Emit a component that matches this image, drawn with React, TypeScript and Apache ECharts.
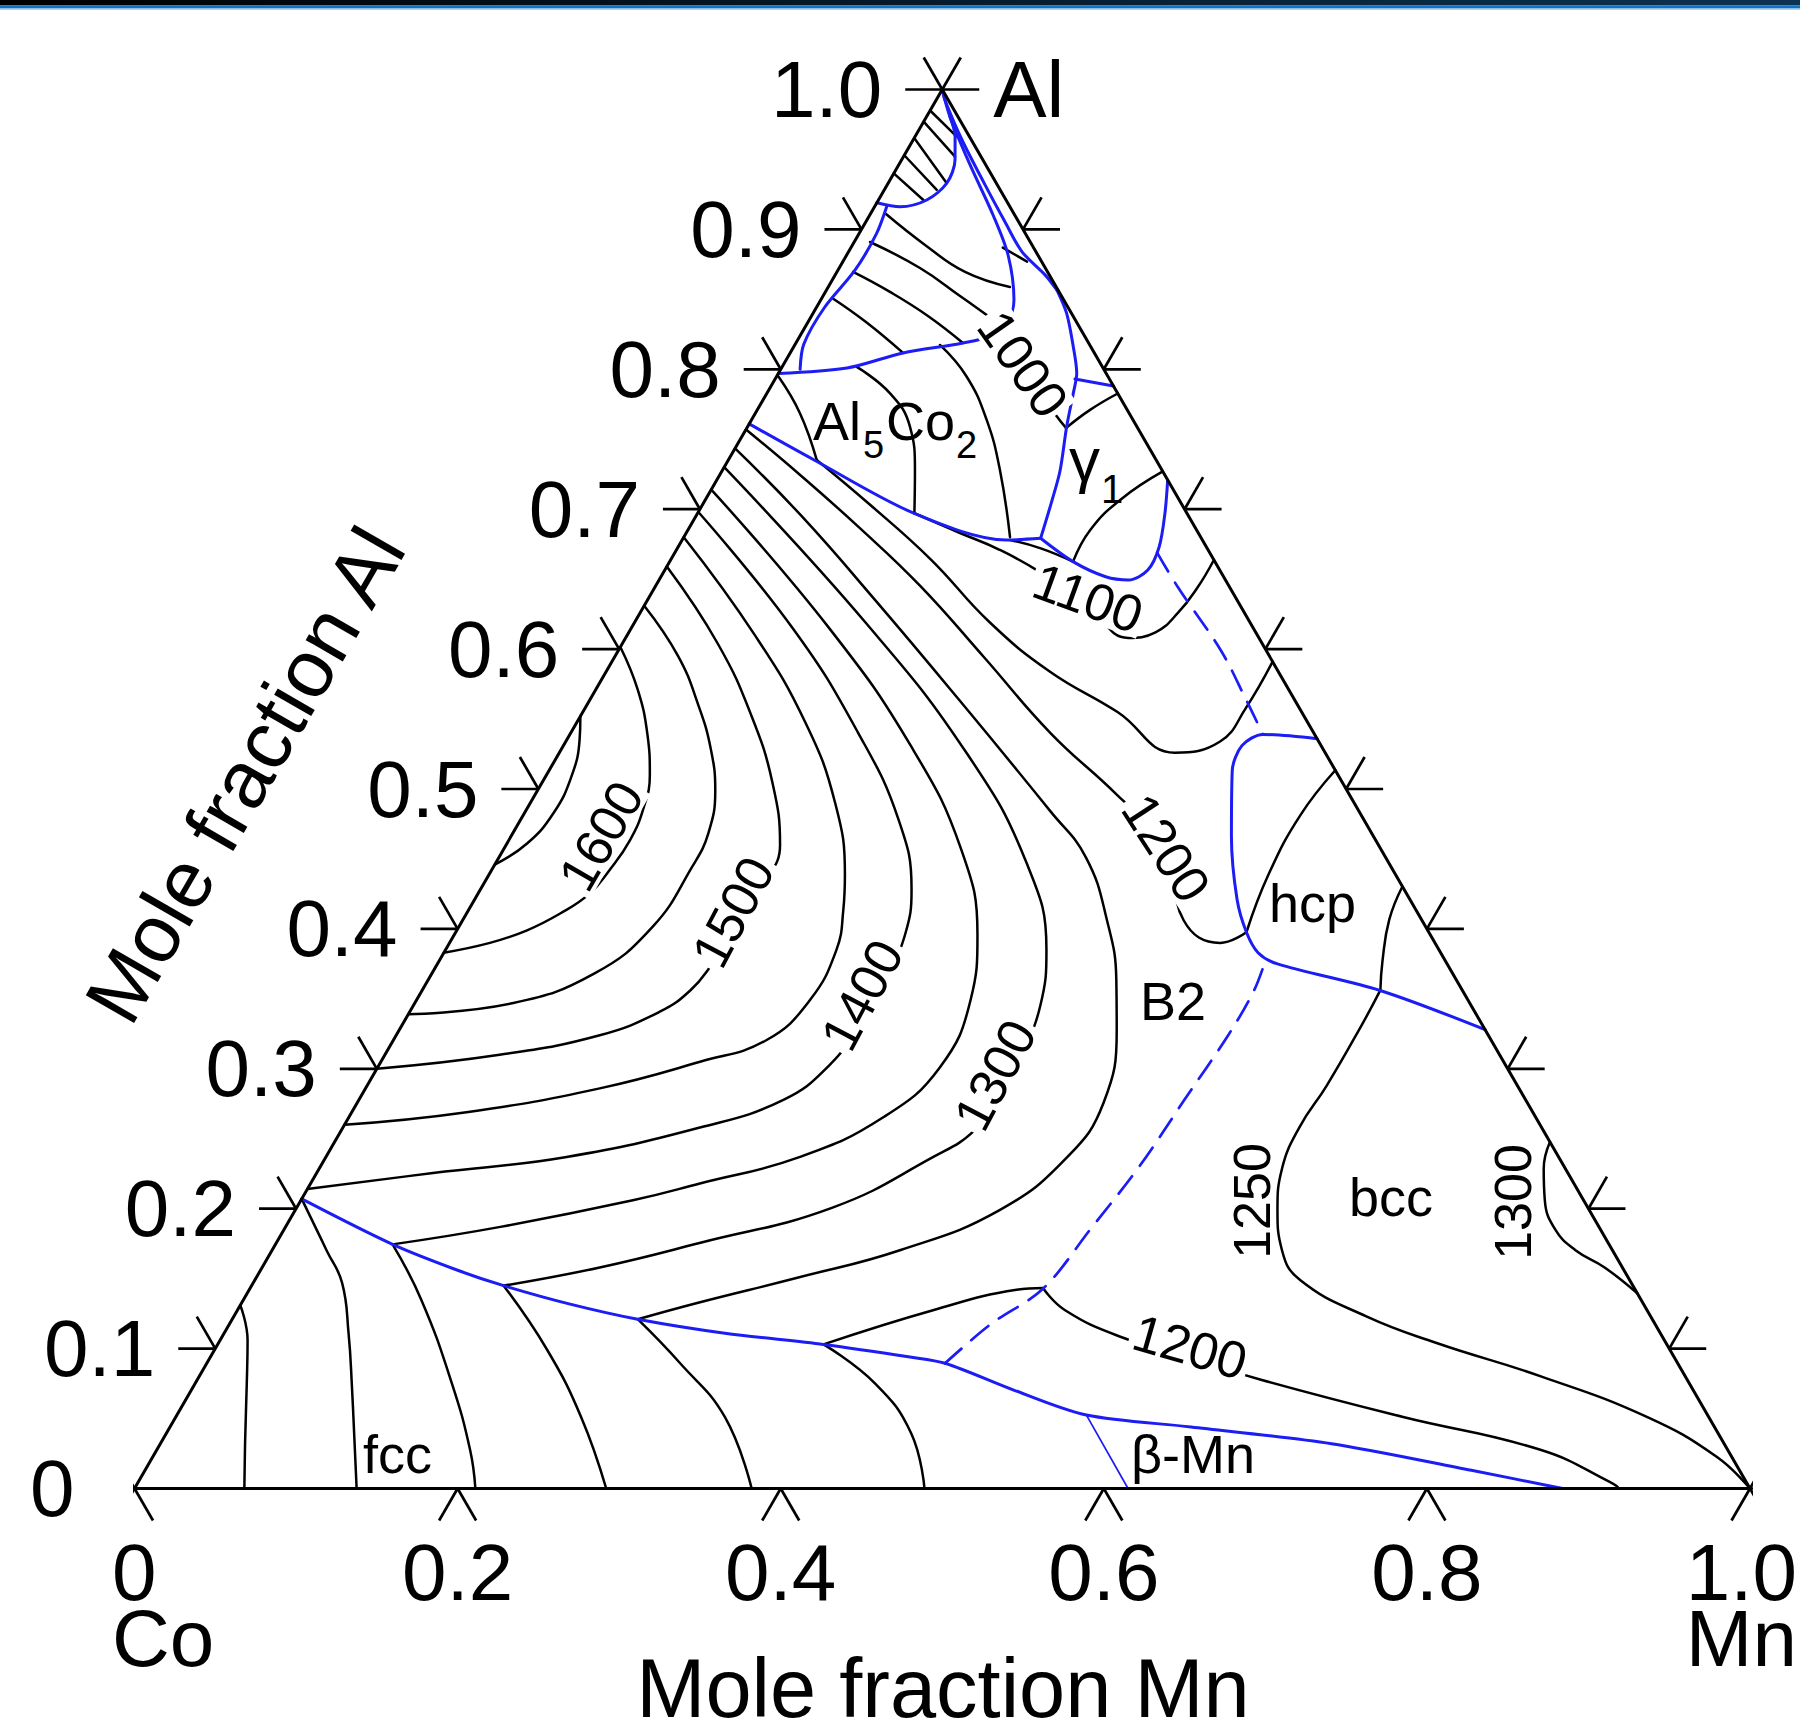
import React, { useEffect, useRef } from "react";
import * as echarts from "echarts";

// ---------------- axis ticks ----------------
const leftAxisTicks = [0, 0.1, 0.2, 0.3, 0.4, 0.5, 0.6, 0.7, 0.8, 0.9, 1.0];
const leftAxisLabels = ["0", "0.1", "0.2", "0.3", "0.4", "0.5", "0.6", "0.7", "0.8", "0.9", "1.0"];
const rightAxisTicks = [0, 0.1, 0.2, 0.3, 0.4, 0.5, 0.6, 0.7, 0.8, 0.9, 1.0];
const bottomAxisTicks = [0, 0.2, 0.4, 0.6, 0.8, 1.0];
const bottomAxisLabels = ["0", "0.2", "0.4", "0.6", "0.8", "1.0"];

// ---------------- data: [x(Mn), x(Al)] ----------------
// B2 liquidus isotherms
const iso1650 = [[0, 0.552], [0.008, 0.535], [0.016, 0.509], [0.018, 0.483], [0.0125, 0.461], [0, 0.446]];
const iso1600 = [[0, 0.6015], [0.026, 0.571], [0.048, 0.539], [0.064, 0.51], [0.072, 0.486], [0.075, 0.4635], [0.073, 0.442], [0.069, 0.425], [0.058, 0.411], [0.0435, 0.399], [0.025, 0.39], [0, 0.383]];
const iso1550 = [[0, 0.631], [0.039, 0.595], [0.069, 0.56], [0.0925, 0.5285], [0.11, 0.499], [0.121, 0.4685], [0.123, 0.4445], [0.12, 0.4016], [0.1005, 0.368], [0.061, 0.347], [0, 0.339]];
const iso1500 = [[0, 0.659], [0.059, 0.604], [0.106, 0.552], [0.143, 0.504], [0.1696, 0.46], [0.1734, 0.43], [0.172, 0.403], [0.17, 0.374], [0.166, 0.356], [0.155, 0.341], [0.126, 0.324], [0.071, 0.31], [0, 0.3]];
const iso1450 = [[0, 0.68], [0.079, 0.61], [0.142, 0.547], [0.189, 0.4896], [0.2205, 0.4385], [0.232, 0.4135], [0.242, 0.385], [0.2435, 0.349], [0.231, 0.3206], [0.1976, 0.305], [0.145, 0.286], [0.071, 0.269], [0, 0.26]];
const iso1400 = [[0, 0.698], [0.101, 0.614], [0.178, 0.54], [0.234, 0.478], [0.267, 0.428], [0.279, 0.396], [0.283, 0.3635], [0.283, 0.331], [0.279, 0.303], [0.263, 0.278], [0.221, 0.258], [0.149, 0.237], [0.072, 0.2255], [0, 0.214]];
const iso1350 = [[0, 0.714], [0.1225, 0.615], [0.2165, 0.5295], [0.284, 0.456], [0.324, 0.3956], [0.343, 0.349], [0.348, 0.301], [0.331, 0.2655], [0.2935, 0.237], [0.241, 0.218], [0.2055, 0.206], [0.133, 0.187], [0.0725, 0.1745]];
const iso1300 = [[0, 0.73], [0.143, 0.619], [0.253, 0.525], [0.329, 0.4467], [0.372, 0.385], [0.388, 0.3456], [0.394, 0.31], [0.395, 0.281], [0.392, 0.256], [0.376, 0.237], [0.332, 0.201], [0.262, 0.1755], [0.209, 0.158], [0.156, 0.145]];
const iso1250 = [[0, 0.7435], [0.0655, 0.695], [0.141, 0.635], [0.227, 0.565], [0.325, 0.484], [0.3635, 0.451], [0.399, 0.406], [0.426, 0.3635], [0.444, 0.328], [0.462, 0.2756], [0.459, 0.237], [0.436, 0.199], [0.389, 0.1705], [0.336, 0.151], [0.283, 0.133], [0.251, 0.121]];
const iso1200Upper = [[0, 0.757], [0.049, 0.725], [0.105, 0.687], [0.164, 0.645], [0.229, 0.594], [0.297, 0.54], [0.36, 0.496], [0.41, 0.458], [0.4465, 0.406], [0.477, 0.39], [0.4895, 0.3976]];
const iso1200Hcp = [[0.4895, 0.3976], [0.4825, 0.439], [0.481, 0.481], [0.4866, 0.5134]];
const iso1200Lower = [[0.375, 0.103], [0.431, 0.1276], [0.475, 0.142], [0.4907, 0.1433]];
const iso1200Bcc = [[0.4907, 0.1433], [0.512, 0.1276], [0.556, 0.1085], [0.607, 0.0933], [0.659, 0.0776], [0.759, 0.0513], [0.857, 0.0275], [0.913, 0.0037], [0.919, 0]];
const iso1150 = [[0.0547, 0.7352], [0.104, 0.703], [0.161, 0.664], [0.22, 0.619], [0.2745, 0.584], [0.331, 0.555], [0.381, 0.526], [0.405, 0.534], [0.409, 0.558], [0.409, 0.591]];
const iso1100 = [[0.1342, 0.6971], [0.1695, 0.683], [0.2, 0.671], [0.233, 0.655], [0.276, 0.63], [0.311, 0.608], [0.326, 0.612], [0.333, 0.626], [0.336, 0.644], [0.3363, 0.6637]];
const iso1050 = [[0.203, 0.678], [0.225, 0.672], [0.2497, 0.6625]];
const iso1050Gamma = [[0.2497, 0.6625], [0.249, 0.685], [0.257, 0.707], [0.273, 0.727]];
const iso1000 = [[0.1215, 0.831], [0.1481, 0.8038], [0.1746, 0.7781], [0.1976, 0.758]];
const iso1000Gamma = [[0.1976, 0.758], [0.206, 0.771], [0.2173, 0.7827]];
// Al5Co2 primary field
const al5co2A = [[0.001, 0.795], [0.0276, 0.7686], [0.0547, 0.7352]];
const al5co2B = [[0.0462, 0.8017], [0.0763, 0.7828], [0.1005, 0.759], [0.1191, 0.728], [0.1342, 0.6971]];
const al5co2C = [[0.0899, 0.8174], [0.1178, 0.7947], [0.1456, 0.7638], [0.1717, 0.728], [0.2019, 0.6801]];
// Al-rich corner
const alRich1 = [[0.0097, 0.911], [0.0449, 0.8889], [0.0793, 0.8696], [0.1125, 0.8588]];
const alRich2 = [[0.0098, 0.891], [0.05, 0.8724], [0.0848, 0.8524], [0.1215, 0.831]];
const alRich3 = [[0.01, 0.8696], [0.04, 0.8553], [0.0721, 0.8381], [0.1034, 0.8188]];
const alRich4 = [[0.0063, 0.851], [0.0359, 0.8338], [0.0699, 0.8117]];
const apex1 = [[0, 0.985], [0.0258, 0.9663]];
const apex2 = [[0, 0.977], [0.0319, 0.952]];
const apex3 = [[0, 0.9653], [0.0363, 0.933]];
const apex4 = [[0, 0.953], [0.0325, 0.9282]];
const apex5 = [[0, 0.94], [0.0278, 0.921]];
const apexRung = [[0.094, 0.887], [0.114, 0.877]];
// fcc primary field
const fcc1 = [[0, 0.131], [0.017, 0.106], [0.032, 0.075], [0.051, 0.035], [0.068, 0]];
const fcc2 = [[0, 0.207], [0.034, 0.17], [0.055, 0.147], [0.077, 0.111], [0.097, 0.075], [0.1375, 0]];
const fcc3 = [[0.0725, 0.1745], [0.11, 0.135], [0.159, 0.075], [0.194, 0.0275], [0.211, 0]];
const fcc4 = [[0.156, 0.145], [0.206, 0.099], [0.251, 0.051], [0.292, 0]];
const fcc5 = [[0.251, 0.121], [0.293, 0.0895], [0.34, 0.051], [0.382, 0]];
const fcc6 = [[0.375, 0.103], [0.421, 0.075], [0.461, 0.0395], [0.489, 0]];
// hcp / bcc fields
const hcp1250 = [[0.5697, 0.4303], [0.5734, 0.4066], [0.584, 0.377], [0.5931, 0.3562]];
const bcc1250 = [[0.5931, 0.3562], [0.594, 0.3325], [0.594, 0.288], [0.592, 0.258], [0.596, 0.2286], [0.608, 0.199], [0.625, 0.1705], [0.647, 0.149], [0.701, 0.123], [0.754, 0.104], [0.831, 0.08], [0.911, 0.051], [0.968, 0.0227], [1, 0]];
const bcc1300 = [[0.7523, 0.2477], [0.758, 0.2286], [0.77, 0.206], [0.787, 0.185], [0.8065, 0.1705], [0.831, 0.158], [0.8605, 0.1395]];

// phase boundaries (monovariant lines)
const fccBoundary = [[0, 0.207], [0.0725, 0.1745], [0.122, 0.156], [0.156, 0.145], [0.203, 0.132], [0.251, 0.121], [0.31, 0.111], [0.375, 0.103], [0.433, 0.094], [0.457, 0.0895], [0.51, 0.07], [0.563, 0.0525], [0.632, 0.044], [0.725, 0.032], [0.821, 0.013], [0.884, 0]];
const betaMnBoundary = [[0.563, 0.0525], [0.615, 0]];
const hcpBoundary = [[0.464, 0.536], [0.429, 0.539], [0.42, 0.531], [0.423, 0.513], [0.446, 0.466], [0.472, 0.421], [0.4895, 0.3976], [0.504, 0.383], [0.52, 0.375], [0.593, 0.356], [0.672, 0.328]];
const orderLineLower = [[0.457, 0.0895], [0.471, 0.117], [0.491, 0.143], [0.499, 0.185], [0.507, 0.231], [0.511, 0.278], [0.515, 0.324], [0.515, 0.356], [0.511, 0.379]];
const orderLineUpper = [[0.2985, 0.669], [0.324, 0.644], [0.373, 0.599], [0.406, 0.564], [0.429, 0.539]];
const al5co2B2 = [[0, 0.761], [0.0535, 0.735], [0.1342, 0.697], [0.2006, 0.678], [0.2213, 0.6792]];
const al5co2Gamma = [[0.2213, 0.6792], [0.2148, 0.7063], [0.2091, 0.7277], [0.1975, 0.759], [0.1897, 0.7828], [0.1847, 0.7971], [0.173, 0.8162], [0.157, 0.84], [0.1427, 0.8566]];
const gammaEdge = [[0.1856, 0.7931], [0.2119, 0.7881]];
const gammaB2 = [[0.2213, 0.6792], [0.2497, 0.6625], [0.2753, 0.6517], [0.2907, 0.6494], [0.299, 0.6565], [0.2977, 0.6732], [0.2893, 0.6971], [0.2791, 0.7209]];
const alRichA = [[0, 0.919], [0.0158, 0.9162], [0.0299, 0.921], [0.0363, 0.933], [0.0331, 0.9496], [0.0248, 0.9663], [0.0145, 0.9806]];
const alRichB = [[0.0075, 0.9162], [0.0108, 0.897], [0.0106, 0.871], [0.005, 0.844], [0.0053, 0.818], [0.012, 0.8]];
const alRichC = [[0, 1], [0.0146, 0.9804], [0.0442, 0.9461], [0.0763, 0.9103], [0.0999, 0.8817], [0.1196, 0.8496], [0.1238, 0.8338], [0.1192, 0.8245], [0.1034, 0.8188], [0.0699, 0.8117], [0.0406, 0.8009], [0, 0.797]];
const alRichD = [[0, 1], [0.0054, 0.9925], [0.0303, 0.9639], [0.0606, 0.9318], [0.0861, 0.9054], [0.1074, 0.884], [0.1299, 0.8675], [0.1427, 0.8566]];

// label texts
const contourLabelTexts = ["1600", "1500", "1400", "1300", "1200", "1100", "1000", "1200", "1250", "1300"];
const phaseLabelTexts = ["B2", "hcp", "bcc", "fcc", "β-Mn"];
const vertexLabels = ["Co", "Mn", "Al"];

// ---------------- layout ----------------
const W = 1800;
const H = 1736;
const G = { left: 134.5, top: 89.5, width: 1615.5, height: 1399 };
const SQ = Math.sqrt(3) / 2;
const FONT = '"Liberation Sans", Arial, Helvetica, sans-serif';
const BLACK = "#000000";
const BLUE = "#1c1cf5";

const cart = (p: number[]) => [p[0] + p[1] / 2, p[1] * SQ];
const pxX = (mn: number, al: number) => G.left + (mn + al / 2) * G.width;
const pxY = (al: number) => G.top + G.height * (1 - al);

function line(points: number[][], color: string, width: number, smooth = 0.3, dash?: any, z = 2) {
  return {
    type: "line",
    data: points.map(cart),
    showSymbol: false,
    symbol: "none",
    smooth,
    clip: false,
    silent: true,
    z,
    lineStyle: { color, width, type: dash || "solid", cap: "round", join: "round" },
  };
}

function seg(a: number[], b: number[]) {
  return {
    type: "line",
    data: [a, b],
    showSymbol: false,
    symbol: "none",
    clip: false,
    silent: true,
    z: 5,
    lineStyle: { color: BLACK, width: 2.7 },
  };
}

function text(t: string, x: number, y: number, size: number, o: any = {}) {
  const align = o.align || "center";
  const va = o.va || "middle";
  return {
    type: "text",
    x,
    y,
    rotation: ((o.rot || 0) * Math.PI) / 180,
    z: 100,
    silent: true,
    style: {
      text: t,
      fill: BLACK,
      font: `${size}px ${FONT}`,
      align,
      verticalAlign: va,
      textAlign: align,
      textVerticalAlign: va,
      lineHeight: o.lh,
      backgroundColor: o.bg,
      padding: o.bg ? [0, 3] : undefined,
    },
  };
}

function buildOption() {
  const blackCurves = [
    iso1650, iso1600, iso1550, iso1500, iso1450, iso1400, iso1350, iso1300, iso1250,
    iso1200Upper, iso1200Hcp, iso1200Lower, iso1200Bcc, iso1150, iso1100, iso1050, iso1050Gamma,
    iso1000, iso1000Gamma, al5co2A, al5co2B, al5co2C, alRich1, alRich2, alRich3, alRich4,
    apex1, apex2, apex3, apex4, apex5, apexRung, fcc1, fcc2, fcc3, fcc4, fcc5, fcc6,
    hcp1250, bcc1250, bcc1300,
  ];
  const blueCurves = [fccBoundary, hcpBoundary, al5co2B2, al5co2Gamma, gammaEdge, gammaB2, alRichA, alRichB, alRichC, alRichD];

  const series: any[] = [];
  blackCurves.forEach((c) => series.push(line(c, BLACK, 2.5, 0.45)));
  blueCurves.forEach((c) => series.push(line(c, BLUE, 3, 0.3, undefined, 3)));
  series.push(line(betaMnBoundary, BLUE, 1.7, 0, undefined, 3));
  series.push(line(orderLineLower, BLUE, 2.7, 0.35, [22, 13], 3));
  series.push(line(orderLineUpper, BLUE, 2.7, 0.35, [22, 13], 3));
  // frame
  series.push(line([[0, 0], [1, 0], [0, 1], [0, 0]], BLACK, 3, 0, undefined, 4));

  // ticks
  const L = 37 / G.width;
  leftAxisTicks.forEach((a) => {
    const p = [a / 2, a * SQ];
    series.push(seg(p, [p[0] - L, p[1]]));
    series.push(seg(p, [p[0] - L / 2, p[1] + L * SQ]));
  });
  rightAxisTicks.forEach((a) => {
    const p = [1 - a / 2, a * SQ];
    series.push(seg(p, [p[0] + L, p[1]]));
    series.push(seg(p, [p[0] + L / 2, p[1] + L * SQ]));
  });
  bottomAxisTicks.forEach((m) => {
    const p = [m, 0];
    series.push(seg(p, [m - L / 2, -L * SQ]));
    series.push(seg(p, [m + L / 2, -L * SQ]));
  });

  const graphics: any[] = [];
  // top banner
  graphics.push({
    type: "rect",
    shape: { x: 0, y: 0, width: W, height: 5.5 },
    style: {
      fill: new echarts.graphic.LinearGradient(0, 0, 1, 0, [
        { offset: 0, color: "#000000" },
        { offset: 1, color: "#0c3352" },
      ]),
    },
    z: 50,
  });
  graphics.push({ type: "rect", shape: { x: 0, y: 5.5, width: W, height: 3 }, style: { fill: "#1371c0" }, z: 50 });
  graphics.push({ type: "rect", shape: { x: 0, y: 8.5, width: W, height: 1.2 }, style: { fill: "#8ec6ec" }, z: 50 });

  // left axis labels
  leftAxisTicks.forEach((a, i) => {
    graphics.push(text(leftAxisLabels[i], pxX(0, a) - 60, pxY(a), 80, { align: "right" }));
  });
  // bottom axis labels; the end ones share a block with the vertex names below them
  const last = bottomAxisTicks.length - 1;
  bottomAxisTicks.forEach((m, i) => {
    if (i === 0) {
      graphics.push(text(`${bottomAxisLabels[i]}\n${vertexLabels[0]}`, pxX(m, 0) - 22.5, pxY(0) + 117, 80, { align: "left", lh: 66 }));
    } else if (i === last) {
      graphics.push(text(`${bottomAxisLabels[i]}\n${vertexLabels[1]}`, W - 3, pxY(0) + 117, 80, { align: "right", lh: 66 }));
    } else {
      graphics.push(text(bottomAxisLabels[i], pxX(m, 0), pxY(0) + 84, 80));
    }
  });
  // apex + axis titles
  graphics.push(text(vertexLabels[2], pxX(0, 1) + 51, pxY(1), 80, { align: "left" }));
  graphics.push(text("Mole fraction Mn", 943, 1688, 83));
  graphics.push(text("Mole fraction Al", 245, 775, 81, { rot: 60 }));

  // contour labels
  const contourLayout = [
    [601, 836, 60, 1], [733, 912, 62, 1], [862, 995, 62, 1], [995, 1075, 62, 1],
    [1166, 848, -57, 1], [1088, 598, -20, 1], [1023, 364, -55, 1], [1190, 1347, -16, 1],
    [1252, 1201, 90, 0], [1513, 1202, 90, 0],
  ];
  contourLabelTexts.forEach((t, i) => {
    const [x, y, r, bg] = contourLayout[i];
    graphics.push(text(t, x, y, 52, { rot: r, bg: bg ? "#ffffff" : undefined, lh: bg ? 44 : undefined }));
  });

  // phase labels
  const phaseLayout = [[1140, 1001], [1269, 903], [1349, 1197], [363, 1454], [1131, 1454]];
  phaseLabelTexts.forEach((t, i) => {
    graphics.push(text(t, phaseLayout[i][0], phaseLayout[i][1], 54, { align: "left" }));
  });
  graphics.push(text("Al", 813, 421, 54, { align: "left" }));
  graphics.push(text("5", 863, 445, 38, { align: "left" }));
  graphics.push(text("Co", 886, 421, 54, { align: "left" }));
  graphics.push(text("2", 956, 445, 38, { align: "left" }));
  graphics.push(text("γ", 1069, 459, 62, { align: "left" }));
  graphics.push(text("1", 1101, 489, 40, { align: "left" }));

  return {
    animation: false,
    backgroundColor: "#ffffff",
    grid: { left: G.left, top: G.top, width: G.width, height: G.height, containLabel: false },
    xAxis: { type: "value", min: 0, max: 1, show: false },
    yAxis: { type: "value", min: 0, max: SQ, show: false },
    series,
    graphic: { elements: graphics },
  };
}

export default function App() {
  const ref = useRef<HTMLDivElement>(null);
  useEffect(() => {
    document.body.style.margin = "0";
    const chart = echarts.init(ref.current as HTMLDivElement, undefined, { renderer: "svg", width: W, height: H });
    chart.setOption(buildOption() as any);
    return () => chart.dispose();
  }, []);
  return <div ref={ref} style={{ width: W, height: H }} />;
}
